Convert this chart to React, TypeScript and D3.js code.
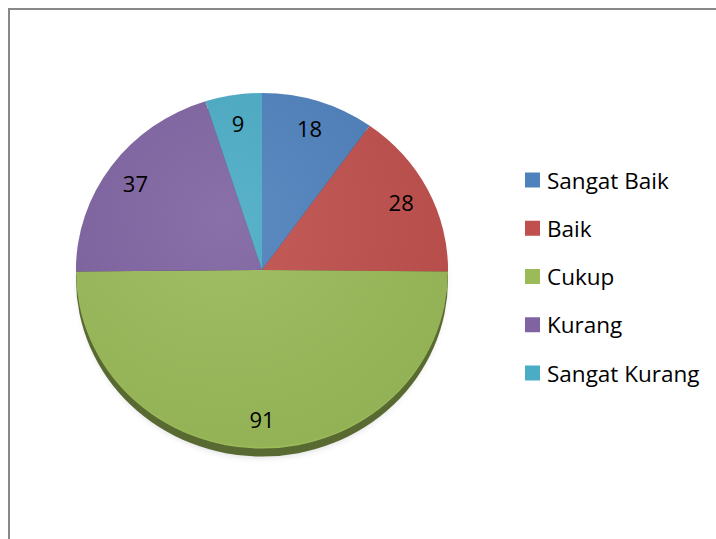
import * as d3 from "d3";

// values
const categories = ["Sangat Baik", "Baik", "Cukup", "Kurang", "Sangat Kurang"];
const values = [18, 28, 91, 37, 9];
const colors = ["#4F81BD", "#C0504D", "#9BBB59", "#8064A2", "#4BACC6"];

const W = 716;
const H = 539;
const cx = 262;
const cy = 270;
const rx = 186;
const ry = 177;
const depth = 8;

type Slice = { name: string; value: number; color: string };

const App = () => {
  const slices: Slice[] = categories.map((name, i) => ({ name, value: values[i], color: colors[i] }));

  const pie = d3
    .pie<Slice>()
    .sort(null)
    .value((d) => d.value)
    .startAngle(0)
    .endAngle(2 * Math.PI);
  const arcs = pie(slices);

  // unit arc, stretched into an ellipse by the group transform
  const arc = d3.arc<d3.PieArcDatum<Slice>>().innerRadius(0).outerRadius(1);
  const labelArc = d3.arc<d3.PieArcDatum<Slice>>().innerRadius(0.84).outerRadius(0.84);

  const legendY = d3
    .scalePoint<string>()
    .domain(categories)
    .range([180, 373]);

  const font = "'Open Sans', 'Noto Sans', sans-serif";

  return (
    <svg width={W} height={H} style={{ position: "absolute", left: 0, top: 0 }} fontFamily={font}>
      <defs>
        <radialGradient id="light" cx="0.4" cy="0.35" r="0.75">
          <stop offset="0" stopColor="#fff" stopOpacity={0.08} />
          <stop offset="1" stopColor="#000" stopOpacity={0.06} />
        </radialGradient>
        <filter id="blur" x="-20%" y="-20%" width="140%" height="140%">
          <feGaussianBlur stdDeviation="3" />
        </filter>
      </defs>

      <rect x={9} y={9} width={W + 20} height={H + 20} fill="#fff" stroke="#888" strokeWidth={2} />

      {/* soft shadow */}
      <ellipse cx={cx} cy={cy + depth + 3} rx={rx - 2} ry={ry} fill="#000" opacity={0.12} filter="url(#blur)" />

      {/* side wall: same slices, shifted down and darkened */}
      <g transform={`translate(${cx},${cy + depth}) scale(${rx},${ry})`}>
        {arcs.map((a) => (
          <path key={"side" + a.data.name} d={arc(a) ?? ""} fill={d3.color(a.data.color)!.darker(1.6).toString()} />
        ))}
      </g>

      {/* top face */}
      <g transform={`translate(${cx},${cy}) scale(${rx},${ry})`}>
        {arcs.map((a) => (
          <path key={a.data.name} d={arc(a) ?? ""} fill={a.data.color} />
        ))}
        <ellipse cx={0} cy={0} rx={1} ry={1} fill="url(#light)" />
      </g>

      {/* data labels */}
      {arcs.map((a) => {
        const [lx, ly] = labelArc.centroid(a);
        return (
          <text
            key={"lbl" + a.data.name}
            x={cx + lx * rx}
            y={cy + ly * ry}
            textAnchor="middle"
            dominantBaseline="central"
            fontSize={22}
            fill="#000"
          >
            {a.data.value}
          </text>
        );
      })}

      {/* legend */}
      {slices.map((s) => (
        <g key={"lg" + s.name} transform={`translate(525,${legendY(s.name)})`}>
          <rect x={0} y={-7.5} width={15} height={15} fill={s.color} />
          <text x={22} y={0} dominantBaseline="central" fontSize={22.5} fill="#000">
            {s.name}
          </text>
        </g>
      ))}
    </svg>
  );
};

export default App;
